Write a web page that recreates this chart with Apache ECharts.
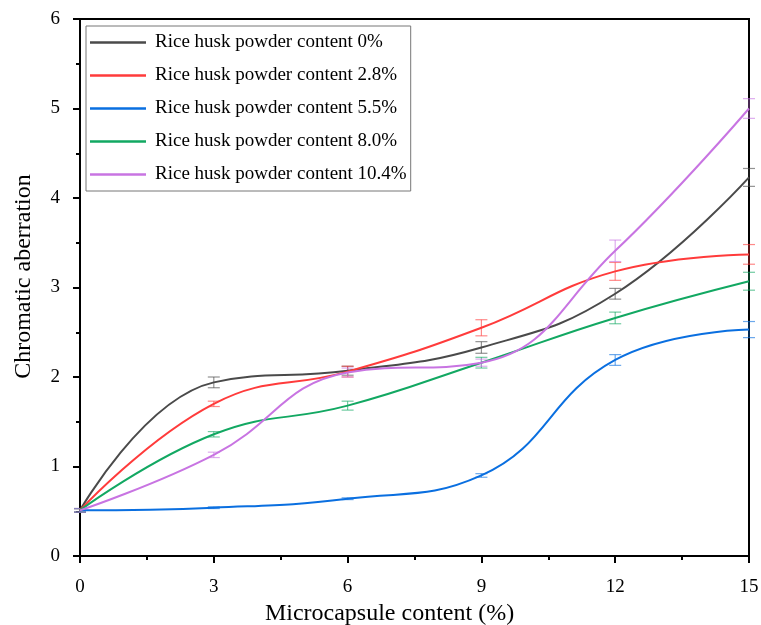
<!DOCTYPE html>
<html><head><meta charset="utf-8">
<script src="https://cdn.jsdelivr.net/npm/echarts@6/dist/echarts.min.js"></script>
<style>html,body{margin:0;padding:0;background:#fff}#c{width:761px;height:625px}</style>
</head><body><div id="c"></div>
<script>
const xValues = [0, 3, 6, 9, 12, 15];
const seriesNames = [
  'Rice husk powder content 0%',
  'Rice husk powder content 2.8%',
  'Rice husk powder content 5.5%',
  'Rice husk powder content 8.0%',
  'Rice husk powder content 10.4%'
];
const s0 = [0.51, 1.94, 2.07, 2.33, 2.93, 4.23];
const s1 = [0.51, 1.70, 2.06, 2.55, 3.18, 3.37];
const s2 = [0.51, 0.54, 0.64, 0.90, 2.19, 2.53];
const s3 = [0.51, 1.36, 1.68, 2.16, 2.66, 3.07];
const s4 = [0.51, 1.13, 2.05, 2.16, 3.41, 5.00];
const e0 = [0.02, 0.06, 0.05, 0.065, 0.06, 0.10];
const e1 = [0.02, 0.03, 0.06, 0.09, 0.10, 0.11];
const e2 = [0.02, 0.01, 0.01, 0.02, 0.06, 0.09];
const e3 = [0.02, 0.03, 0.05, 0.06, 0.065, 0.10];
const e4 = [0.02, 0.03, 0.05, 0.04, 0.12, 0.11];
const yTicks = [0, 1, 2, 3, 4, 5, 6];
const xTicks = [0, 3, 6, 9, 12, 15];

const values = [s0, s1, s2, s3, s4];
const errs = [e0, e1, e2, e3, e4];
const colors = ['#4a4a4a', '#ff3b3b', '#0a6fe0', '#12a862', '#c874e2'];
const errColors = ['rgba(74,74,74,0.6)', 'rgba(255,59,59,0.6)', 'rgba(10,111,224,0.6)', 'rgba(18,168,98,0.6)', 'rgba(200,116,226,0.6)'];
const FONT = 'Liberation Serif';

const series = [];
values.forEach((vals, i) => {
  series.push({
    type: 'custom',
    name: 'err' + i,
    clip: false,
    z: 1,
    data: xValues.map((x, k) => [x, vals[k] - errs[i][k], vals[k] + errs[i][k]]),
    renderItem: function (params, api) {
      const lo = api.coord([api.value(0), api.value(1)]);
      const hi = api.coord([api.value(0), api.value(2)]);
      const hw = 6;
      const st = { stroke: errColors[i], lineWidth: 1.2 };
      return {
        type: 'group',
        children: [
          { type: 'line', shape: { x1: lo[0], y1: lo[1], x2: hi[0], y2: hi[1] }, style: st },
          { type: 'line', shape: { x1: lo[0] - hw, y1: lo[1], x2: lo[0] + hw, y2: lo[1] }, style: st },
          { type: 'line', shape: { x1: hi[0] - hw, y1: hi[1], x2: hi[0] + hw, y2: hi[1] }, style: st }
        ]
      };
    }
  });
});
values.forEach((vals, i) => {
  series.push({
    type: 'line',
    name: seriesNames[i],
    data: xValues.map((x, k) => [x, vals[k]]),
    smooth: 0.45,
    symbol: 'none',
    z: 3,
    lineStyle: { color: colors[i], width: 2 },
    itemStyle: { color: colors[i] }
  });
});

const chart = echarts.init(document.getElementById('c'));
chart.setOption({
  animation: false,
  backgroundColor: '#fff',
  textStyle: { fontFamily: FONT },
  grid: { left: 80, right: 12, top: 19, bottom: 69, containLabel: false, outerBoundsMode: 'none', show: true, borderColor: '#000', borderWidth: 2, backgroundColor: 'transparent' },
  legend: {
    data: seriesNames,
    orient: 'vertical',
    left: 86, top: 26,
    icon: 'rect',
    itemWidth: 56, itemHeight: 2.5,
    itemGap: 14,
    padding: [7, 4, 7, 4],
    borderColor: '#777', borderWidth: 1,
    textStyle: { fontFamily: FONT, fontSize: 19, lineHeight: 19, color: '#000', padding: [0, 0, 0, 4] }
  },
  xAxis: {
    type: 'value', min: 0, max: 15, interval: 3,
    name: 'Microcapsule content (%)', nameLocation: 'middle', nameGap: 44,
    nameTextStyle: { fontFamily: FONT, fontSize: 24, color: '#000', padding: [0, 50, 0, 0] },
    axisLine: { onZero: false, lineStyle: { color: '#000', width: 2 } },
    axisTick: { inside: false, length: 7, lineStyle: { color: '#000', width: 2 } },
    minorTick: { show: true, splitNumber: 2, length: 4, lineStyle: { color: '#000', width: 2 } },
    axisLabel: { fontFamily: FONT, fontSize: 19, color: '#000', margin: 22, formatter: v => xTicks.includes(v) ? String(v) : '' },
    splitLine: { show: false }
  },
  yAxis: {
    type: 'value', min: 0, max: 6, interval: 1,
    name: 'Chromatic aberration', nameLocation: 'middle', nameGap: 44,
    nameTextStyle: { fontFamily: FONT, fontSize: 24, color: '#000', padding: [0, 0, 0, 22] },
    axisLine: { onZero: false, lineStyle: { color: '#000', width: 2 } },
    axisTick: { inside: false, length: 7, lineStyle: { color: '#000', width: 2 } },
    minorTick: { show: true, splitNumber: 2, length: 4, lineStyle: { color: '#000', width: 2 } },
    axisLabel: { fontFamily: FONT, fontSize: 19, color: '#000', margin: 20, formatter: v => yTicks.includes(v) ? String(v) : '' },
    splitLine: { show: false }
  },
  series: series
});
</script></body></html>
